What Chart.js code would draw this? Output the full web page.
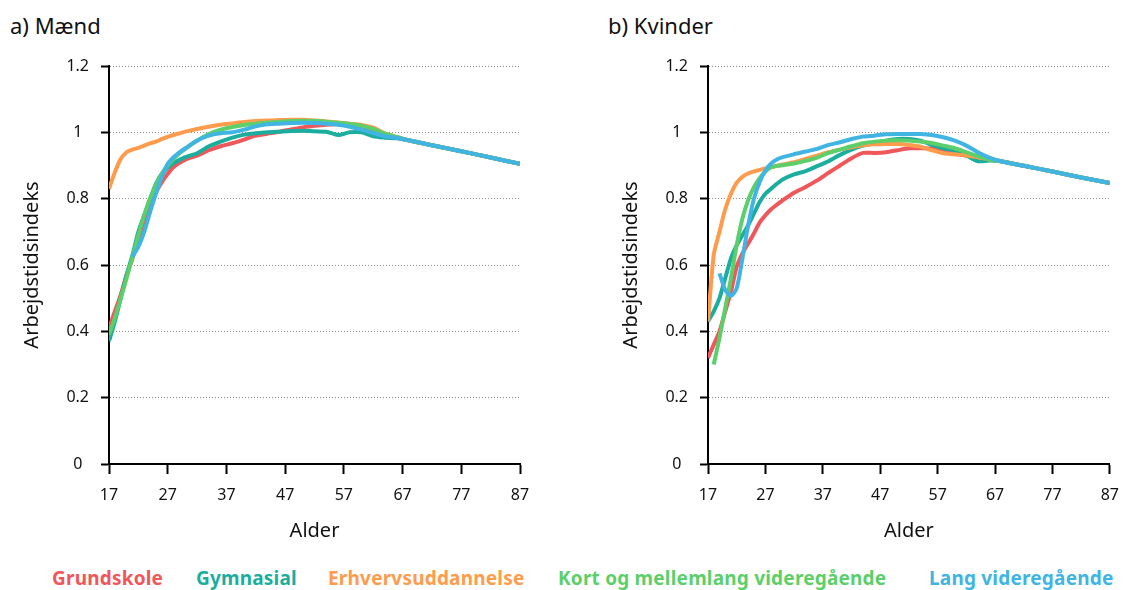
<!DOCTYPE html>
<html><head><meta charset="utf-8">
<script src="https://cdn.jsdelivr.net/npm/chart.js@4.4.0/dist/chart.umd.min.js"></script>
<style>
body{margin:0;width:1131px;height:590px;background:#fff;font-family:"Noto Sans",sans-serif;overflow:hidden;position:relative;color:#111}
.title{position:absolute;font-size:22px;line-height:26px;top:12px;white-space:nowrap}
.wrap{position:absolute;top:0;height:550px}
#legend{position:absolute;top:565px;left:0;width:1131px;height:26px;font-weight:bold;font-size:19px;letter-spacing:0.2px;line-height:26px;white-space:nowrap}
#legend span{position:absolute;top:0}
</style></head>
<body>
<div class="title" style="left:10px">a) Mænd</div>
<div class="title" style="left:608px">b) Kvinder</div>
<div class="wrap" style="left:0;width:560px"><canvas id="c1" width="560" height="550"></canvas></div>
<div class="wrap" style="left:599px;width:532px"><canvas id="c2" width="532" height="550"></canvas></div>
<div id="legend"></div>
<script>
// ---- data ----
const ages = [17,18,19,20,21,22,23,24,25,26,27,28,29,30,32,34,36,38,40,42,44,46,48,50,52,54,56,58,60,62,64,66,68,72,77,82,87];
const xTicks = [17,27,37,47,57,67,77,87];
const yTicks = [0,0.2,0.4,0.6,0.8,1,1.2];
const yTickLabels = ["0","0.2","0.4","0.6","0.8","1","1.2"];
const seriesNames = ["Grundskole","Gymnasial","Erhvervsuddannelse","Kort og mellemlang videregående","Lang videregående"];
const seriesColors = ["#F0575B","#1BAE9E","#FF9B4C","#5CCF6B","#40B4E2"];
const chartTitles = ["a) Mænd","b) Kvinder"];

const menGrundskole = [0.41,0.46,0.51,0.57,0.62,0.68,0.73,0.78,0.82,0.85,0.875,0.895,0.908,0.918,0.93,0.946,0.958,0.967,0.978,0.99,0.996,1.002,1.009,1.015,1.02,1.023,1.024,1.021,1.015,1.005,0.992,0.984,0.976,0.961,0.943,0.924,0.905];
const menGymnasial = [0.37,0.43,0.5,0.57,0.63,0.7,0.75,0.8,0.845,0.875,0.893,0.907,0.917,0.925,0.937,0.958,0.972,0.984,0.993,0.997,1.0,1.002,1.004,1.005,1.003,1.002,0.992,1.0,1.0,0.988,0.984,0.982,0.976,0.961,0.943,0.924,0.905];
const menErhverv = [0.83,0.88,0.92,0.94,0.948,0.953,0.96,0.967,0.972,0.98,0.986,0.992,0.997,1.002,1.01,1.017,1.023,1.027,1.031,1.034,1.036,1.037,1.038,1.038,1.036,1.033,1.03,1.026,1.022,1.014,0.997,0.986,0.976,0.961,0.943,0.924,0.905];
const menKort = [0.39,0.44,0.5,0.56,0.625,0.69,0.75,0.8,0.84,0.875,0.9,0.92,0.937,0.95,0.975,0.995,1.008,1.016,1.022,1.026,1.03,1.032,1.034,1.035,1.034,1.032,1.029,1.025,1.02,1.01,0.996,0.986,0.976,0.961,0.943,0.924,0.905];
const menLang = [null,null,null,null,0.625,0.655,0.7,0.76,0.815,0.865,0.905,0.925,0.94,0.952,0.975,0.99,0.997,1.0,1.008,1.018,1.024,1.026,1.028,1.029,1.028,1.026,1.023,1.017,1.008,0.998,0.988,0.983,0.976,0.961,0.943,0.924,0.905];

const womenGrundskole = [0.32,0.36,0.4,0.46,0.52,0.595,0.635,0.665,0.695,0.728,0.75,0.768,0.782,0.795,0.818,0.835,0.855,0.878,0.9,0.922,0.938,0.938,0.94,0.946,0.952,0.952,0.951,0.945,0.935,0.93,0.925,0.918,0.913,0.899,0.882,0.864,0.847];
const womenGymnasial = [0.43,0.46,0.5,0.56,0.62,0.66,0.69,0.72,0.755,0.79,0.815,0.83,0.845,0.858,0.873,0.883,0.898,0.913,0.932,0.948,0.96,0.968,0.975,0.98,0.98,0.975,0.962,0.952,0.945,0.93,0.913,0.915,0.913,0.899,0.882,0.864,0.847];
const womenErhverv = [0.43,0.63,0.7,0.768,0.815,0.848,0.866,0.876,0.882,0.887,0.891,0.895,0.899,0.903,0.91,0.92,0.93,0.94,0.948,0.955,0.961,0.964,0.965,0.965,0.962,0.957,0.946,0.937,0.934,0.93,0.925,0.918,0.913,0.899,0.882,0.864,0.847];
const womenKort = [null,0.3,0.38,0.47,0.56,0.66,0.74,0.796,0.835,0.862,0.882,0.895,0.899,0.901,0.906,0.914,0.924,0.938,0.948,0.958,0.967,0.972,0.975,0.976,0.975,0.972,0.968,0.96,0.952,0.94,0.928,0.918,0.913,0.899,0.882,0.864,0.847];
const womenLang = [null,null,0.575,0.525,0.507,0.53,0.62,0.72,0.8,0.85,0.885,0.906,0.918,0.925,0.934,0.942,0.95,0.962,0.97,0.98,0.987,0.99,0.994,0.995,0.995,0.995,0.992,0.985,0.975,0.96,0.94,0.924,0.913,0.899,0.882,0.864,0.847];

const menSeries = [menGrundskole, menGymnasial, menErhverv, menKort, menLang];
const womenSeries = [womenGrundskole, womenGymnasial, womenErhverv, womenKort, womenLang];
const drawOrder = [4,3,2,1,0];

// ---- legend (layout) ----
const legendLefts = [52,196,328,558,929];
const lg = document.getElementById('legend');
seriesNames.forEach((n,i)=>{const s=document.createElement('span');s.textContent=n;s.style.color=seriesColors[i];s.style.left=legendLefts[i]+'px';lg.appendChild(s);});

Chart.defaults.font.family = '"Noto Sans", sans-serif';
Chart.defaults.color = '#111';

function makeChart(id, series, rightPad){
  return new Chart(document.getElementById(id), {
    type: 'line',
    data: {
      datasets: series.map((vals,i)=>({
        label: seriesNames[i],
        data: ages.map((a,j)=>({x:a, y:vals[j]})),
        borderColor: seriesColors[i],
        backgroundColor: seriesColors[i],
        borderWidth: 4,
        pointRadius: 0,
        tension: 0.25,
        order: drawOrder[i],
        fill: false
      }))
    },
    options: {
      responsive: false,
      animation: false,
      devicePixelRatio: 1,
      layout: {padding: {top: 66, right: rightPad, left: 0, bottom: 0}},
      plugins: {legend: {display: false}, tooltip: {enabled: false}, title: {display: false}},
      scales: {
        x: {
          type: 'linear', min: 17, max: 87,
          afterBuildTicks: s => { s.ticks = xTicks.map(v=>({value:v})); },
          afterFit: s => { s.height = 86; },
          grid: {drawOnChartArea: false, drawTicks: true, tickLength: 10, tickColor: '#000', tickWidth: 2},
          border: {display: true, color: '#000', width: 2},
          ticks: {font: {size: 16}, color: '#111', padding: 12, maxRotation: 0, autoSkip: false},
          title: {display: true, text: 'Alder', font: {size: 20}, color: '#111', padding: {top: 0, bottom: 7}}
        },
        y: {
          min: 0, max: 1.2,
          afterBuildTicks: s => { s.ticks = yTicks.map(v=>({value:v})); },
          afterFit: s => { s.width = 109; },
          grid: {drawOnChartArea: true, drawTicks: true, tickLength: 8, tickColor: '#000', tickWidth: 2,
                 color: c => (c.tick && c.tick.value === 0) ? 'rgba(0,0,0,0)' : '#8a8a8a', lineWidth: 1},
          border: {display: true, color: '#000', width: 2, dash: [1,2]},
          ticks: {font: {size: 16}, color: '#111', padding: 12, crossAlign: 'center',
                  callback: (v, i) => yTickLabels[i]},
          title: {display: true, text: 'Arbejdstidsindeks', font: {size: 20}, color: '#111', padding: {top: 20, bottom: 0}}
        }
      }
    }
  });
}
makeChart('c1', menSeries, 40);
makeChart('c2', womenSeries, 18);
</script>
</body></html>
